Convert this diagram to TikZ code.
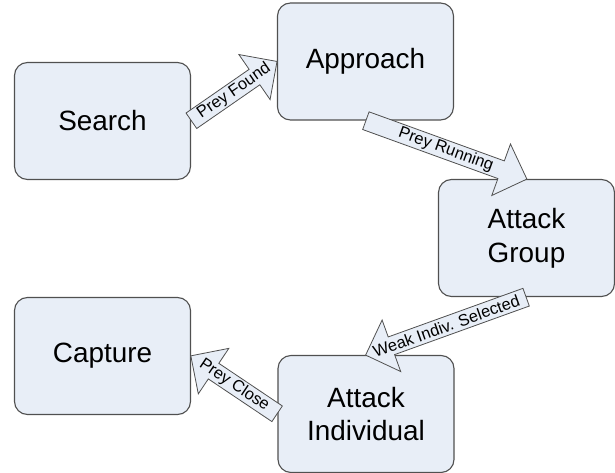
\documentclass[tikz,border=0pt]{standalone}
\usepackage{fontspec}
\setmainfont{Liberation Sans}
\usetikzlibrary{shapes.arrows,calc}
\definecolor{boxfill}{RGB}{232,238,247}
\definecolor{boxline}{RGB}{80,80,80}
\tikzset{
  state/.style={draw=boxline, fill=boxfill, line width=1.1bp, rounded corners=13bp,
    minimum width=176bp, minimum height=117bp, font=\fontsize{28}{34}\selectfont,
    align=center, inner sep=0pt},
  blockarrow/.style={single arrow, draw=boxline, fill=boxfill, line width=0.8bp,
    inner xsep=0pt, inner ysep=9bp, single arrow head extend=18bp,
    single arrow tip angle=90, anchor=tail},
  arrowlabel/.style={font=\fontsize{16.5}{16.5}\selectfont, inner sep=0pt}
}
\newcommand{\flowarrow}[4]{%
  \path let \p1=(#1), \p2=(#2), \n1={atan2(\y2-\y1,\x2-\x1)}, \n2={veclen(\x2-\x1,\y2-\y1)} in
    node[blockarrow, rotate=\n1, minimum height=\n2] at (\p1) {}
    node[arrowlabel, rotate=\n1+#4] at ($(\p1)!0.5!(\p2)$) {#3};
}
\begin{document}
\begin{tikzpicture}[x=1bp,y=1bp]
\useasboundingbox (0,0) rectangle (615,-473);
\node[state] (search) at (102.5,-121) {Search};
\node[state] (approach) at (365.5,-61.5) {Approach};
\node[state] (group) at (526.5,-238) {Attack\\Group};
\node[state] (capture) at (102.5,-356) {Capture};
\node[state] (indiv) at (366,-414) {Attack\\Individual};
\flowarrow{search.east}{approach.west}{Prey Found}{0}
\flowarrow{approach.south}{group.north}{Prey Running}{0}
\flowarrow{group.south}{indiv.north}{Weak Indiv. Selected}{180}
\flowarrow{indiv.west}{capture.east}{Prey Close}{180}
\end{tikzpicture}
\end{document}
